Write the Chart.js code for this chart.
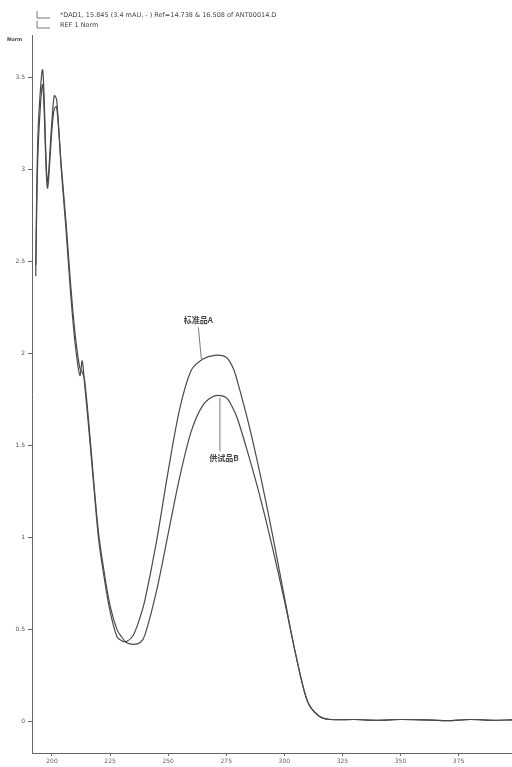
<!DOCTYPE html>
<html>
<head>
<meta charset="utf-8">
<script src="https://cdn.jsdelivr.net/npm/chart.js@4/dist/chart.umd.min.js"></script>
<style>
  html, body { margin: 0; padding: 0; background: #fff; }
  #wrap { width: 512px; height: 767px; }
</style>
</head>
<body>
<div id="wrap"><canvas id="specChart"></canvas></div>
<script>
// wavelength (nm)
const wavelengths = [193, 194, 196, 198, 200, 201, 202, 204, 206, 208, 210, 212, 213, 214, 216, 218, 220, 222, 225, 228, 230, 232, 235, 238, 240, 245, 250, 255, 260, 265, 270, 275, 278, 280, 285, 290, 295, 300, 305, 310, 315, 320, 330, 340, 350, 360, 370, 380, 390, 398];
// normalised absorbance, reference standard
const standardA = [2.48, 3.2, 3.54, 2.93, 3.27, 3.40, 3.38, 3.0, 2.68, 2.33, 2.05, 1.88, 1.96, 1.84, 1.57, 1.28, 1.0, 0.82, 0.6, 0.46, 0.44, 0.435, 0.47, 0.57, 0.66, 0.98, 1.36, 1.70, 1.91, 1.97, 1.99, 1.98, 1.92, 1.84, 1.60, 1.32, 1.01, 0.68, 0.36, 0.11, 0.03, 0.012, 0.012, 0.008, 0.012, 0.01, 0.006, 0.012, 0.008, 0.01];
// normalised absorbance, sample
const sampleB = [2.42, 3.1, 3.46, 2.9, 3.22, 3.33, 3.34, 3.02, 2.72, 2.38, 2.1, 1.92, 1.90, 1.86, 1.6, 1.3, 1.03, 0.85, 0.63, 0.5, 0.46, 0.43, 0.42, 0.43, 0.47, 0.71, 1.02, 1.33, 1.58, 1.72, 1.77, 1.76, 1.70, 1.64, 1.43, 1.20, 0.94, 0.66, 0.36, 0.11, 0.03, 0.012, 0.012, 0.008, 0.012, 0.01, 0.006, 0.012, 0.008, 0.01];

const xTicks = [200, 225, 250, 275, 300, 325, 350, 375];
const yTicks = [0, 0.5, 1, 1.5, 2, 2.5, 3, 3.5];

const legendLines = [
  '*DAD1, 15.845 (3.4 mAU, - ) Ref=14.738 & 16.508 of ANT00014.D',
  'REF 1 Norm'
];
// peak labels: [text, wavelength, label value, pointer value]
const peakLabels = [
  ['标准品A', 263, 2.18, 1.97],
  ['供试品B', 274, 1.43, 1.76]
];

function toPts(ys) {
  return wavelengths.map((w, i) => ({ x: w, y: ys[i] }));
}

const lineColor = '#4a4a4a';

const headerPlugin = {
  id: 'header',
  afterDraw(chart) {
    const ctx = chart.ctx;
    const xs = chart.scales.x, ys = chart.scales.y;
    ctx.save();
    ctx.strokeStyle = '#555';
    ctx.lineWidth = 0.8;
    ctx.fillStyle = '#444';
    ctx.font = '6.5px "DejaVu Sans"';
    ctx.textBaseline = 'middle';
    // legend
    legendLines.forEach((t, i) => {
      const yy = 15 + i * 10;
      ctx.beginPath();
      ctx.moveTo(37, yy - 4); ctx.lineTo(37, yy + 3); ctx.lineTo(50, yy + 3);
      ctx.stroke();
      ctx.fillText(t, 60, yy);
    });
    // axis unit
    ctx.font = 'bold 5px "DejaVu Sans"';
    ctx.fillText('Norm', 7, 40);
    // peak labels
    ctx.font = 'bold 8px "Noto Sans CJK SC"';
    ctx.textAlign = 'center';
    peakLabels.forEach(p => {
      const px = xs.getPixelForValue(p[1]);
      const py = ys.getPixelForValue(p[2]);
      const pe = ys.getPixelForValue(p[3]);
      ctx.fillText(p[0], px, py);
      ctx.beginPath();
      if (pe > py) { ctx.moveTo(px, py + 7); ctx.lineTo(px + 3, pe); }
      else { ctx.moveTo(px - 4, py - 7); ctx.lineTo(px - 4, pe); }
      ctx.stroke();
    });
    ctx.restore();
  }
};

const ctx = document.getElementById('specChart').getContext('2d');
const chart = new Chart(ctx, {
  type: 'line',
  data: {
    datasets: [{
      label: 'standard',
      data: toPts(standardA),
      borderColor: lineColor,
      borderWidth: 1.2,
      pointRadius: 0,
      tension: 0.3
    }, {
      label: 'sample',
      data: toPts(sampleB),
      borderColor: lineColor,
      borderWidth: 1.2,
      pointRadius: 0,
      tension: 0.3
    }]
  },
  options: {
    responsive: true,
    maintainAspectRatio: false,
    animation: false,
    layout: { padding: { top: 35, right: 0, left: 0, bottom: 0 } },
    plugins: {
      legend: { display: false },
      tooltip: { enabled: false }
    },
    scales: {
      x: {
        type: 'linear',
        min: 191.4,
        max: 398,
        afterBuildTicks: (axis) => { axis.ticks = xTicks.map(v => ({ value: v })); },
        afterFit: (axis) => { axis.height = 14; },
        border: { color: '#666', width: 1 },
        grid: { drawOnChartArea: false, tickLength: 3, color: '#666' },
        ticks: { color: '#666', font: { size: 6, family: 'DejaVu Sans' }, padding: 2, maxRotation: 0 }
      },
      y: {
        min: -0.17,
        max: 3.73,
        afterBuildTicks: (axis) => { axis.ticks = yTicks.map(v => ({ value: v })); },
        afterFit: (axis) => { axis.width = 32; },
        border: { color: '#666', width: 1 },
        grid: { drawOnChartArea: false, tickLength: 4, color: '#666' },
        ticks: {
          color: '#555',
          font: { size: 6, family: 'DejaVu Sans' },
          padding: 3,
          callback: (v) => String(v)
        }
      }
    }
  },
  plugins: [headerPlugin]
});
</script>
</body>
</html>
